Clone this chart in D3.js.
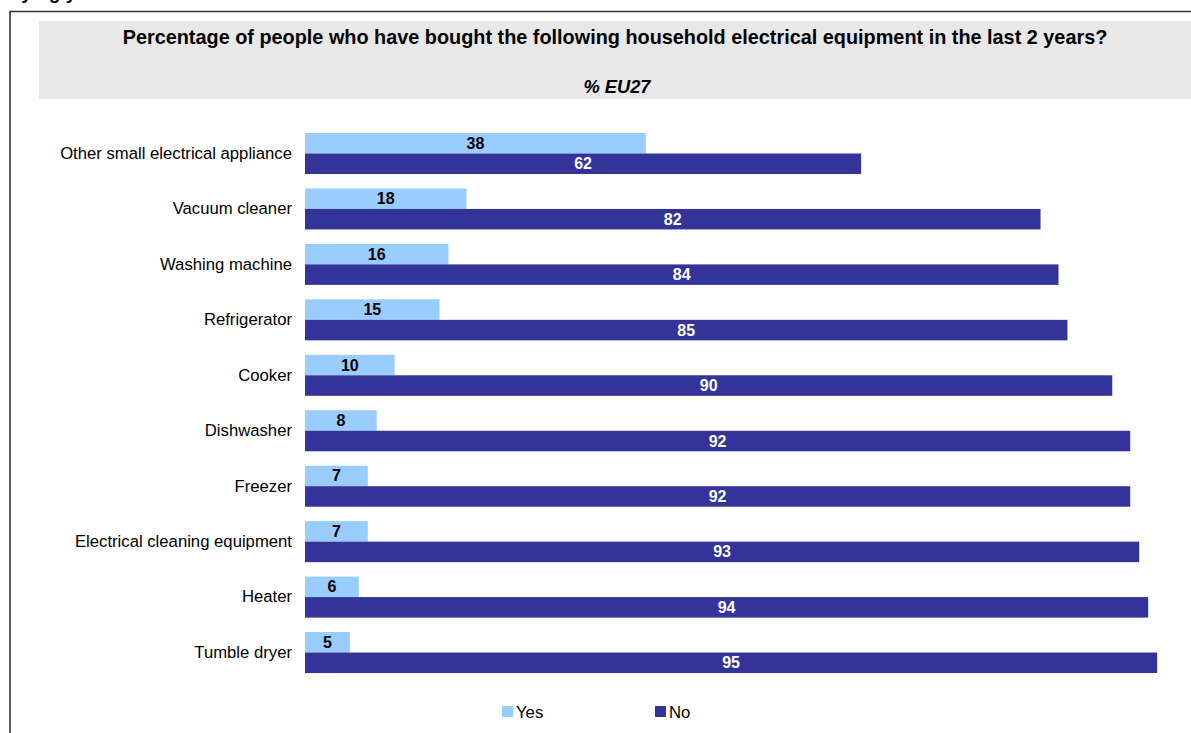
<!DOCTYPE html>
<html>
<head>
<meta charset="utf-8">
<script src="https://cdn.jsdelivr.net/npm/d3@7"></script>
<style>
  html, body { margin: 0; padding: 0; background: #fff; }
  svg { display: block; font-family: Arial, "Liberation Sans", sans-serif; }
</style>
</head>
<body>
<svg id="chart" width="1191" height="733"></svg>
<script>
// Household electrical equipment bought in the last 2 years (% EU27)
const categories = [
  "Other small electrical appliance",
  "Vacuum cleaner",
  "Washing machine",
  "Refrigerator",
  "Cooker",
  "Dishwasher",
  "Freezer",
  "Electrical cleaning equipment",
  "Heater",
  "Tumble dryer"
];
const yesValues = [38, 18, 16, 15, 10, 8, 7, 7, 6, 5];
const noValues  = [62, 82, 84, 85, 90, 92, 92, 93, 94, 95];
const seriesNames = ["Yes", "No"];
const seriesColors = ["#99CCFF", "#333399"];
const titleText = "Percentage of people who have bought the following household electrical equipment in the last 2 years?";
const subtitleText = "% EU27";

const svg = d3.select("#chart");
const W = 1191;

// Section heading cut by the page edge
svg.append("text")
  .attr("x", -4).attr("y", -1.5)
  .attr("font-size", 19).attr("font-weight", "bold")
  .attr("fill", "#000")
  .text("Buying years");

// Frame
svg.append("path")
  .attr("d", `M10,733 V11.5 H${W}`)
  .attr("fill", "none").attr("stroke", "#333").attr("stroke-width", 1.6);

// Header band
svg.append("rect")
  .attr("x", 39).attr("y", 21).attr("width", W - 39).attr("height", 78)
  .attr("fill", "#E8E8E8");
svg.append("text")
  .attr("x", 615).attr("y", 44)
  .attr("text-anchor", "middle")
  .attr("font-size", 19.85).attr("font-weight", "bold")
  .text(titleText);
svg.append("text")
  .attr("x", 617).attr("y", 93)
  .attr("text-anchor", "middle")
  .attr("font-size", 18.3).attr("font-weight", "bold").attr("font-style", "italic")
  .text(subtitleText);

// Scales
const x = d3.scaleLinear().domain([0, 100]).range([305, 305 + 897]);
const y = d3.scaleBand().domain(categories).range([133, 133 + 55.45 * categories.length]).paddingInner(0).paddingOuter(0);
const sub = d3.scaleBand().domain(seriesNames).range([0, 41]);

const rows = categories.map((c, i) => ({ cat: c, vals: [yesValues[i], noValues[i]] }));

const g = svg.append("g");
const row = g.selectAll("g.row").data(rows).join("g")
  .attr("class", "row")
  .attr("transform", d => `translate(0,${y(d.cat)})`);

row.selectAll("rect").data(d => d.vals.map((v, k) => ({ v, k })))
  .join("rect")
  .attr("x", x(0))
  .attr("y", d => sub(seriesNames[d.k]))
  .attr("width", d => x(d.v) - x(0))
  .attr("height", sub.bandwidth())
  .attr("fill", d => seriesColors[d.k]);

row.selectAll("text.val").data(d => d.vals.map((v, k) => ({ v, k })))
  .join("text")
  .attr("class", "val")
  .attr("x", d => (x(0) + x(d.v)) / 2)
  .attr("y", d => sub(seriesNames[d.k]) + sub.bandwidth() / 2 + 5.5)
  .attr("text-anchor", "middle")
  .attr("font-size", 16).attr("font-weight", "bold")
  .attr("fill", d => d.k === 0 ? "#000" : "#fff")
  .text(d => d.v);

// Category axis
const axis = d3.axisLeft(y).tickSize(0).tickPadding(13);
const ax = svg.append("g").attr("transform", `translate(${x(0)},0)`).call(axis);
ax.select(".domain").remove();
ax.selectAll("text")
  .attr("font-size", 16.7).attr("font-family", "Arial, 'Liberation Sans', sans-serif")
  .attr("fill", "#000")
  .attr("dy", "0.32em");
// Align labels with the boundary between the two bars
ax.selectAll(".tick").attr("transform", d => `translate(0,${y(d) + sub.step()})`);

// Legend
const legendX = [502, 655];
const lg = svg.append("g").selectAll("g").data(seriesNames).join("g")
  .attr("transform", (d, i) => `translate(${legendX[i]},706)`);
lg.append("rect").attr("width", 11).attr("height", 11).attr("fill", (d, i) => seriesColors[i]);
lg.append("text").attr("x", 14).attr("y", 12)
  .attr("font-size", 16.7).attr("fill", "#000")
  .text(d => d);
</script>
</body>
</html>
